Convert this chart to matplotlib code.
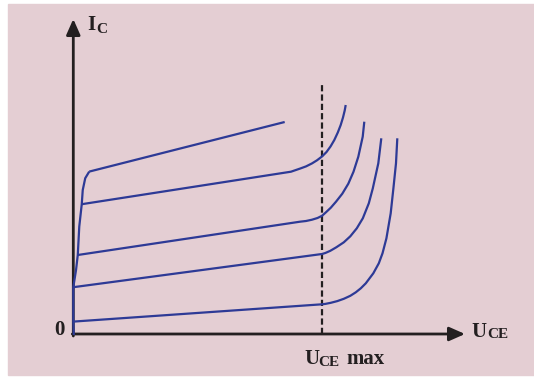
import matplotlib.pyplot as plt
from matplotlib.patches import Rectangle

# Transistor output characteristics, I_C over U_CE.
# U_CE in V (U_CE max = 10), I_C in mA.

U_CE_MAX = 10.0
DASH_TOP = 12.45          # top end of the U_CE max marker
AXIS_END = 15.75          # where the two axis arrows end

# shared saturation edge, from the origin up to the knee
sat_u = [0.02, 0.00, 0.00, 0.11, 0.18, 0.24, 0.34, 0.38, 0.48, 0.64]
sat_i = [-0.05, 0.62, 2.34, 3.20, 3.95, 5.37, 6.49, 7.20, 7.79, 8.12]

# curves top -> bottom, each starts where it leaves the saturation edge
curve1_u = [0.64, 8.50]
curve1_i = [8.12, 10.60]

curve2_u = [0.34, 8.753, 9.115, 9.357, 9.598, 9.799, 10.000, 10.181, 10.342,
            10.495, 10.635, 10.752, 10.844, 10.913, 10.953]
curve2_i = [6.49, 8.115, 8.270, 8.380, 8.530, 8.685, 8.875, 9.100, 9.375,
            9.700, 10.075, 10.450, 10.825, 11.175, 11.450]

curve3_u = [0.18, 9.115, 9.357, 9.598, 9.819, 10.000, 10.141, 10.354, 10.563,
            10.816, 11.058, 11.267, 11.460, 11.637, 11.701]
curve3_i = [3.95, 5.615, 5.650, 5.715, 5.800, 5.910, 6.065, 6.315, 6.615,
            7.015, 7.515, 8.115, 8.865, 9.865, 10.615]

curve4_u = [0.00, 10.000, 10.133, 10.334, 10.575, 10.877, 11.138, 11.399,
            11.641, 11.882, 12.043, 12.264, 12.384]
curve4_i = [2.34, 4.000, 4.050, 4.160, 4.335, 4.585, 4.885, 5.285,
            5.785, 6.535, 7.285, 8.535, 9.785]

curve5_u = [0.00, 10.000, 10.133, 10.354, 10.615, 10.877, 11.138, 11.359,
            11.560, 11.761, 12.063, 12.284, 12.433, 12.590, 12.762, 12.871,
            12.975, 13.028]
curve5_i = [0.62, 1.485, 1.505, 1.560, 1.645, 1.760, 1.910, 2.085,
            2.285, 2.535, 3.035, 3.535, 4.035, 4.785, 6.035, 7.285,
            8.535, 9.785]

curves = [(curve1_u, curve1_i), (curve2_u, curve2_i), (curve3_u, curve3_i),
          (curve4_u, curve4_i), (curve5_u, curve5_i)]

PINK = "#E4CED3"
BLUE = "#2D3A96"
INK = "#231F20"
FONT = "Liberation Serif"

fig = plt.figure(figsize=(5.34, 3.84), dpi=100, facecolor="white")
fig.add_artist(Rectangle((8 / 534, 9 / 384), 1 - 8 / 534, 371 / 384,
                         transform=fig.transFigure, color=PINK, zorder=0))

ax = fig.add_axes([0, 0, 1, 1])
ax.set_facecolor("none")
ax.set_xlim(-2.947, 18.524)
ax.set_ylim(-2.5, 16.7)
ax.axis("off")

# ── axes with arrow heads ────────────────────────────────────────────────
arrow = dict(arrowstyle="-|>,head_length=0.95,head_width=0.42",
             color=INK, lw=2, shrinkA=0, shrinkB=0, mutation_scale=10)
ax.annotate("", xy=(AXIS_END, 0), xytext=(-0.04, 0), arrowprops=arrow)
ax.annotate("", xy=(0, AXIS_END), xytext=(0, -0.1), arrowprops=arrow)

# ── U_CE max marker ──────────────────────────────────────────────────────
ax.plot([U_CE_MAX, U_CE_MAX], [0, DASH_TOP], color=INK, lw=1.6,
        linestyle=(0, (2.8, 1.4)))

# ── characteristic curves ────────────────────────────────────────────────
line = dict(color=BLUE, lw=1.6, solid_capstyle="butt",
            solid_joinstyle="round", zorder=3)
ax.plot(sat_u, sat_i, **line)
for u, i in curves:
    ax.plot(u, i, **line)

# ── labels ───────────────────────────────────────────────────────────────
txt = dict(family=FONT, weight="bold", color=INK, ha="left", va="baseline")
ax.text(0.55, 15.2, "I", fontsize=15, **txt)
ax.text(0.92, 15.05, "C", fontsize=11, **txt)

ax.text(-0.76, -0.05, "0", fontsize=15, **txt)

ax.text(16.02, -0.14, "U", fontsize=15, **txt)
ax.text(16.66, -0.22, "CE", fontsize=11, **txt)

ax.text(9.29, -1.5, "U", fontsize=15, **txt)
ax.text(9.85, -1.62, "CE", fontsize=11, **txt)
ax.text(10.97, -1.5, "max", fontsize=15, **txt)

fig.savefig("out.png", dpi=100)
